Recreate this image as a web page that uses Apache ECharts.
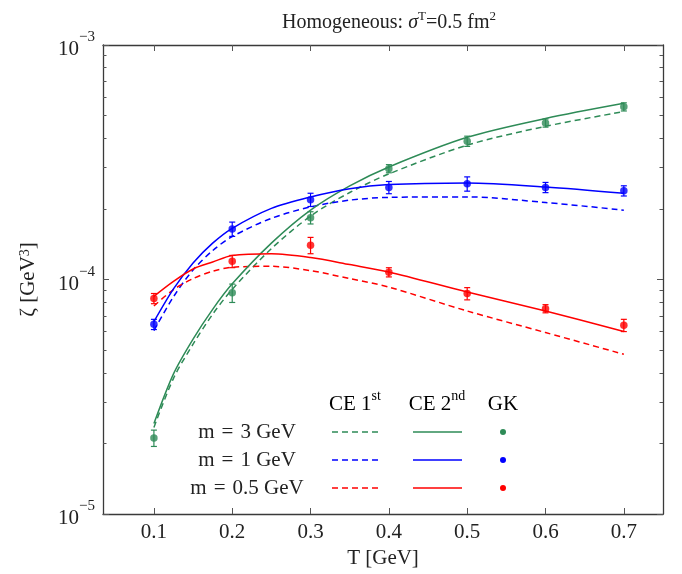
<!DOCTYPE html>
<html>
<head>
<meta charset="utf-8">
<script src="https://cdn.jsdelivr.net/npm/echarts@6/dist/echarts.min.js"></script>
<style>
html,body{margin:0;padding:0;background:#fff;}
#chart{width:682px;height:574px;}
</style>
</head>
<body>
<div id="chart"></div>
<script>
// ---------- data ----------
var CURVE_T = [0.1, 0.125, 0.15, 0.175, 0.2, 0.25, 0.3, 0.35, 0.4, 0.5, 0.6, 0.7];

var CE1_m3  = [2.34e-5, 3.79e-5, 5.30e-5, 7.11e-5, 9.08e-5, 1.354e-4, 1.864e-4, 2.35e-4, 2.82e-4, 3.74e-4, 4.50e-4, 5.20e-4];
var CE2_m3  = [2.43e-5, 3.96e-5, 5.57e-5, 7.46e-5, 9.58e-5, 1.429e-4, 1.976e-4, 2.507e-4, 3.02e-4, 4.04e-4, 4.86e-4, 5.64e-4];
var CE1_m1  = [6.06e-5, 8.44e-5, 1.098e-4, 1.328e-4, 1.525e-4, 1.823e-4, 2.04e-4, 2.18e-4, 2.24e-4, 2.25e-4, 2.13e-4, 1.976e-4];
var CE2_m1  = [6.61e-5, 9.12e-5, 1.176e-4, 1.429e-4, 1.653e-4, 2.01e-4, 2.25e-4, 2.44e-4, 2.54e-4, 2.58e-4, 2.48e-4, 2.33e-4];
var CE1_m05 = [7.71e-5, 9.06e-5, 1.009e-4, 1.084e-4, 1.128e-4, 1.138e-4, 1.091e-4, 1.009e-4, 9.28e-5, 7.34e-5, 5.94e-5, 4.80e-5];
var CE2_m05 = [8.48e-5, 9.82e-5, 1.109e-4, 1.187e-4, 1.265e-4, 1.287e-4, 1.24e-4, 1.158e-4, 1.077e-4, 8.84e-5, 7.34e-5, 6.0e-5];

var GK_T = [0.1, 0.2, 0.3, 0.4, 0.5, 0.6, 0.7];
var GK_m3  = [2.11e-5, 8.77e-5, 1.835e-4, 2.97e-4, 3.89e-4, 4.65e-4, 5.45e-4];
var GK_m1  = [6.44e-5, 1.642e-4, 2.19e-4, 2.47e-4, 2.56e-4, 2.47e-4, 2.39e-4];
var GK_m05 = [8.3e-5, 1.195e-4, 1.40e-4, 1.074e-4, 8.71e-5, 7.51e-5, 6.38e-5];
// relative errors of GK points
var ERR_m3  = [0.08, 0.09, 0.06, 0.04, 0.05, 0.04, 0.04];
var ERR_m1  = [0.05, 0.07, 0.065, 0.06, 0.07, 0.05, 0.05];
var ERR_m05 = [0.05, 0.06, 0.08, 0.045, 0.06, 0.04, 0.06];

var X_TICKS = [0.1, 0.2, 0.3, 0.4, 0.5, 0.6, 0.7];
var Y_TICKS = [1e-5, 1e-4, 1e-3];
var Y_MINOR = [2e-5, 3e-5, 4e-5, 5e-5, 6e-5, 7e-5, 8e-5, 9e-5,
               2e-4, 3e-4, 4e-4, 5e-4, 6e-4, 7e-4, 8e-4, 9e-4];

var MASS_LABELS = ['m\u2004=\u20043 GeV', 'm\u2004=\u20041 GeV', 'm\u2004=\u20040.5 GeV'];
var COLORS = ['#2e8b57', '#0000ff', '#ff0000'];

// ---------- build ----------
var FONT = 'Liberation Serif';
function pairs(xs, ys) { return xs.map(function (x, i) { return [x, ys[i]]; }); }
function errs(xs, ys, e) { return xs.map(function (x, i) { return [x, ys[i] * (1 - e[i]), ys[i] * (1 + e[i])]; }); }

var ce1 = [CE1_m3, CE1_m1, CE1_m05];
var ce2 = [CE2_m3, CE2_m1, CE2_m05];
var gk = [GK_m3, GK_m1, GK_m05];
var er = [ERR_m3, ERR_m1, ERR_m05];

var series = [];
for (var k = 0; k < 3; k++) {
  series.push({
    type: 'line', xAxisIndex: 0, yAxisIndex: 0, data: pairs(CURVE_T, ce1[k]),
    smooth: 0.3, showSymbol: false, silent: true,
    lineStyle: { color: COLORS[k], width: 1.5, type: [6, 4] }, z: 2
  });
  series.push({
    type: 'line', xAxisIndex: 0, yAxisIndex: 0, data: pairs(CURVE_T, ce2[k]),
    smooth: 0.3, showSymbol: false, silent: true,
    lineStyle: { color: COLORS[k], width: 1.5 }, z: 3
  });
}
for (var k2 = 0; k2 < 3; k2++) {
  (function (c) {
    series.push({
      type: 'custom', xAxisIndex: 0, yAxisIndex: 0, data: errs(GK_T, gk[c], er[c]), z: 4, silent: true,
      renderItem: function (params, api) {
        var lo = api.coord([api.value(0), api.value(1)]);
        var hi = api.coord([api.value(0), api.value(2)]);
        var w = 3;
        var st = { stroke: COLORS[c], lineWidth: 1.2 };
        return { type: 'group', children: [
          { type: 'line', shape: { x1: lo[0], y1: lo[1], x2: hi[0], y2: hi[1] }, style: st },
          { type: 'line', shape: { x1: lo[0] - w, y1: lo[1], x2: lo[0] + w, y2: lo[1] }, style: st },
          { type: 'line', shape: { x1: hi[0] - w, y1: hi[1], x2: hi[0] + w, y2: hi[1] }, style: st }
        ]};
      }
    });
    series.push({
      type: 'scatter', xAxisIndex: 0, yAxisIndex: 0, data: pairs(GK_T, gk[c]), silent: true,
      symbol: 'circle', symbolSize: 7.5, itemStyle: { color: COLORS[c] }, z: 5
    });
  })(k2);
}

var tickStyle = { color: '#555', width: 1 };
var axisLineStyle = { color: '#3a3a3a', width: 1.3 };

var option = {
  animation: false,
  backgroundColor: '#fff',
  title: {
    text: 'Homogeneous: {i|σ}{s|T}=0.5 fm{s|2}',
    left: 384, top: 5, textAlign: 'center',
    textStyle: {
      fontFamily: FONT, fontSize: 20, fontWeight: 'normal', color: '#222', lineHeight: 26,
      rich: {
        i: { fontFamily: FONT, fontSize: 20, fontStyle: 'italic', color: '#222', lineHeight: 26 },
        s: { fontFamily: FONT, fontSize: 13, color: '#222', verticalAlign: 'top', lineHeight: 15 }
      }
    }
  },
  grid: { left: 103, right: 19, top: 45, bottom: 57 },
  xAxis: [{
    type: 'value', position: 'bottom', min: 0.035, max: 0.75,
    axisLine: { show: true, lineStyle: axisLineStyle },
    axisTick: { show: true, inside: true, length: 6, lineStyle: tickStyle, customValues: X_TICKS },
    axisLabel: { show: true, customValues: X_TICKS, margin: 8, fontFamily: FONT, fontSize: 21, color: '#222',
      formatter: function (v) { return v.toFixed(1); } },
    splitLine: { show: false },
    name: 'T [GeV]', nameLocation: 'middle', nameGap: 34,
    nameTextStyle: { fontFamily: FONT, fontSize: 21, color: '#222' }
  }, {
    type: 'value', position: 'top', min: 0.035, max: 0.75,
    axisLine: { show: true, lineStyle: axisLineStyle },
    axisTick: { show: true, inside: true, length: 6, lineStyle: tickStyle, customValues: X_TICKS },
    axisLabel: { show: false }, splitLine: { show: false }
  }],
  yAxis: [{
    type: 'log', logBase: 10, position: 'left', min: 1e-5, max: 1e-3,
    axisLine: { show: true, lineStyle: axisLineStyle },
    axisTick: { show: true, inside: true, length: 6, lineStyle: tickStyle, customValues: Y_TICKS },
    axisLabel: { show: true, customValues: Y_TICKS, margin: 8,
      formatter: function (v) {
        var e = Math.round(Math.log(v) / Math.LN10);
        return '{b|10}{s|\u2212' + (-e) + '}';
      },
      rich: {
        b: { fontFamily: FONT, fontSize: 21, color: '#222', lineHeight: 30, verticalAlign: 'bottom' },
        s: { fontFamily: FONT, fontSize: 15, color: '#222', lineHeight: 18, verticalAlign: 'top' }
      }
    },
    splitLine: { show: false },
    name: 'ζ [GeV{s|3}]', nameLocation: 'middle', nameGap: 64, nameRotate: 90,
    nameTextStyle: { fontFamily: FONT, fontSize: 21, color: '#222',
      rich: { s: { fontFamily: FONT, fontSize: 14, color: '#222', verticalAlign: 'top', lineHeight: 14 } } }
  }, {
    type: 'log', logBase: 10, position: 'left', min: 1e-5, max: 1e-3,
    axisLine: { show: false },
    axisTick: { show: true, inside: true, length: 3.5, lineStyle: tickStyle, customValues: Y_MINOR },
    axisLabel: { show: false }, splitLine: { show: false }
  }, {
    type: 'log', logBase: 10, position: 'right', min: 1e-5, max: 1e-3,
    axisLine: { show: true, lineStyle: axisLineStyle },
    axisTick: { show: true, inside: true, length: 6, lineStyle: tickStyle, customValues: Y_TICKS },
    axisLabel: { show: false }, splitLine: { show: false }
  }, {
    type: 'log', logBase: 10, position: 'right', min: 1e-5, max: 1e-3,
    axisLine: { show: false },
    axisTick: { show: true, inside: true, length: 3.5, lineStyle: tickStyle, customValues: Y_MINOR },
    axisLabel: { show: false }, splitLine: { show: false }
  }],
  series: series,
  graphic: []
};

// ---------- legend table ----------
var headerRich = {
  n: { fontFamily: FONT, fontSize: 21, color: '#222', lineHeight: 26, verticalAlign: 'bottom' },
  s: { fontFamily: FONT, fontSize: 14, color: '#222', lineHeight: 14, verticalAlign: 'top' }
};
var HEADERS = ['{n|CE 1}{s|st}', '{n|CE 2}{s|nd}', '{n|GK}'];
var HEAD_X = [355, 437, 503];
var g = option.graphic;
for (var h = 0; h < HEADERS.length; h++) {
  g.push({ type: 'text', x: HEAD_X[h], y: 402, silent: true,
    style: { text: HEADERS[h], rich: headerRich, fontFamily: FONT, fontSize: 21, align: 'center', verticalAlign: 'middle' } });
}
var ROW_Y = [432, 460, 488];
for (var r = 0; r < 3; r++) {
  g.push({ type: 'text', x: 247, y: ROW_Y[r], silent: true,
    style: { text: MASS_LABELS[r], fontFamily: FONT, fontSize: 21, fill: '#222', align: 'center', verticalAlign: 'middle' } });
  g.push({ type: 'line', silent: true, shape: { x1: 332, y1: ROW_Y[r], x2: 382, y2: ROW_Y[r] },
    style: { stroke: COLORS[r], lineWidth: 1.5, lineDash: [6, 4] } });
  g.push({ type: 'line', silent: true, shape: { x1: 413, y1: ROW_Y[r], x2: 462, y2: ROW_Y[r] },
    style: { stroke: COLORS[r], lineWidth: 1.5 } });
  g.push({ type: 'circle', silent: true, shape: { cx: 503, cy: ROW_Y[r], r: 3 },
    style: { fill: COLORS[r] } });
}

var chart = echarts.init(document.getElementById('chart'), null, { renderer: 'canvas' });
chart.setOption(option);
</script>
</body>
</html>
